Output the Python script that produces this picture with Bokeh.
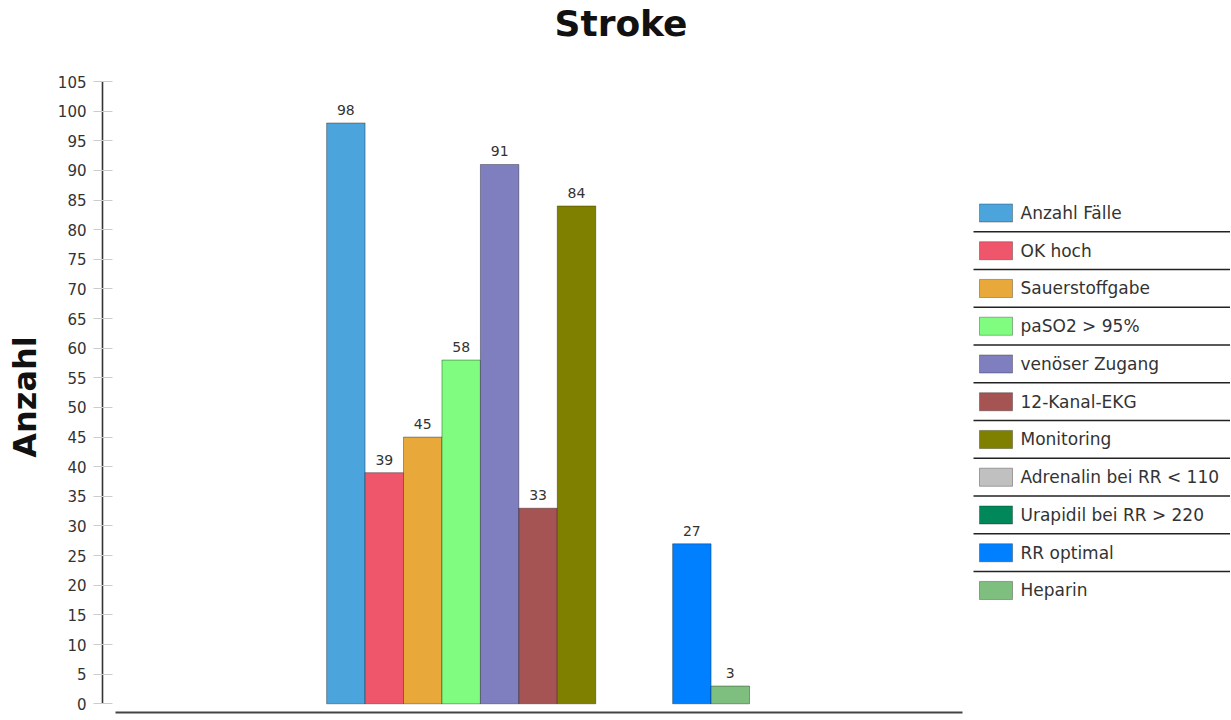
from bokeh.plotting import figure
from bokeh.layouts import row
from bokeh.models import Range1d, FixedTicker, ColumnDataSource, LinearAxis, Title
from bokeh.core.properties import value
from bokeh.embed import file_html
from bokeh.resources import INLINE

# ---------------- data ----------------
title_text = "Stroke"
y_label = "Anzahl"
series = ["Anzahl Fälle", "OK hoch", "Sauerstoffgabe", "paSO2 > 95%",
          "venöser Zugang", "12-Kanal-EKG", "Monitoring",
          "Adrenalin bei RR <  110", "Urapidil bei RR > 220", "RR optimal", "Heparin"]
counts = [98, 39, 45, 58, 91, 33, 84, 0, 0, 27, 3]
colors = ["#4ca4dc", "#ef566b", "#e8a93a", "#80fd80", "#7f7fc0", "#a65353",
          "#808000", "#c0c0c0", "#00875a", "#0080ff", "#7ebe7e"]
y_ticks = [0, 5, 10, 15, 20, 25, 30, 35, 40, 45, 50, 55, 60, 65, 70, 75,
           80, 85, 90, 95, 100, 105]

FONT = "DejaVu Sans"
H = 719
TOP = 81
BOTTOM = 7
W_MAIN = 968
W_LEG = 262

# ---------------- main chart ----------------
idx = list(range(len(series)))
bars = ColumnDataSource(dict(
    x=idx, top=counts, color=colors,
    lalpha=[0.35 if c > 0 else 0.0 for c in counts],
))
lab_x = [i for i, c in zip(idx, counts) if c > 0]
lab_y = [c for c in counts if c > 0]
labels = ColumnDataSource(dict(x=lab_x, y=lab_y, t=[str(v) for v in lab_y]))

p = figure(width=W_MAIN, height=H, output_backend="svg", toolbar_location=None,
           x_range=Range1d(-6.33, 16.04), y_range=Range1d(-1.47, 105),
           x_axis_type=None, y_axis_type=None,
           min_border_left=102, min_border_right=6, min_border_top=TOP,
           min_border_bottom=BOTTOM, title=title_text)
p.outline_line_color = None
p.background_fill_color = "white"
p.border_fill_color = "white"

p.title.text_font = FONT
p.title.text_font_size = "36px"
p.title.text_font_style = "bold"
p.title.text_color = "#111111"
p.title.align = "left"
p.title.offset = 452
p.title.standoff = 0

# blank spacer between the title and the plot area (keeps the title high)
spacer = Title(text=" ", text_font_size="10px", standoff=25)
p.add_layout(spacer, "above")

yaxis = LinearAxis(ticker=FixedTicker(ticks=y_ticks), bounds=(0, 105),
                   axis_label=y_label)
yaxis.axis_line_color = "#333333"
yaxis.axis_line_width = 1.6
yaxis.major_tick_in = 10
yaxis.major_tick_out = 9
yaxis.major_tick_line_color = "#cccccc"
yaxis.minor_tick_line_color = None
yaxis.major_label_standoff = 7
yaxis.major_label_text_font = FONT
yaxis.major_label_text_font_size = "15px"
yaxis.major_label_text_color = "#333333"
yaxis.axis_label_text_font = FONT
yaxis.axis_label_text_font_size = "32px"
yaxis.axis_label_text_font_style = "bold"
yaxis.axis_label_text_color = "#111111"
yaxis.axis_label_standoff = 11
p.add_layout(yaxis, "left")

xaxis = LinearAxis(ticker=FixedTicker(ticks=[]), bounds=(-6.0, 16.04))
xaxis.axis_line_color = "#444444"
xaxis.axis_line_width = 2
xaxis.major_tick_in = 0
xaxis.major_tick_out = 0
xaxis.minor_tick_line_color = None
xaxis.major_tick_line_color = None
xaxis.major_label_text_font_size = "0px"
xaxis.major_label_standoff = 0
xaxis.axis_label_standoff = 0
p.add_layout(xaxis, "below")

p.vbar(x="x", top="top", bottom=0, width=1.0, source=bars,
       fill_color="color", line_color="black", line_alpha="lalpha", line_width=1)
p.text(x="x", y="y", text="t", source=labels, text_align="center",
       text_baseline="bottom", y_offset=-8, text_font=value(FONT),
       text_font_size="14px", text_color="#333333")

# ---------------- legend panel ----------------
leg = ColumnDataSource(dict(y=idx, name=series, color=colors))
seps = ColumnDataSource(dict(y=[i + 0.5 for i in idx[:-1]]))

lg = figure(width=W_LEG, height=H, output_backend="svg", toolbar_location=None,
            x_range=Range1d(0, W_LEG), y_range=Range1d(13.232, -3.483),
            x_axis_type=None, y_axis_type=None,
            min_border_left=0, min_border_right=0, min_border_top=TOP,
            min_border_bottom=BOTTOM)
lg.outline_line_color = None
lg.rect(x=27.5, y="y", width=33, height=0.48, source=leg,
        fill_color="color", line_color="black", line_alpha=0.3)
lg.text(x=52, y="y", text="name", source=leg, text_baseline="middle",
        text_font=value(FONT), text_font_size="17px", text_color="#333333")
lg.segment(x0=5, x1=W_LEG, y0="y", y1="y", source=seps,
           line_color="#222222", line_width=1.5)

layout = row(p, lg, spacing=0)
open("out.html", "w").write(file_html(layout, INLINE))
